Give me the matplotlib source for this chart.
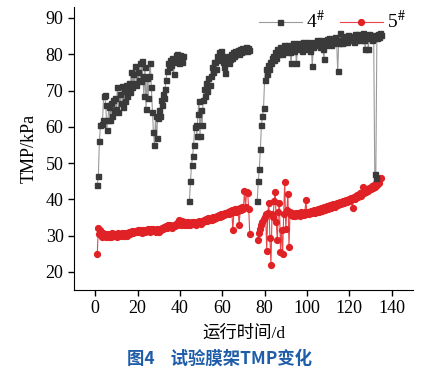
import numpy as np
import matplotlib
matplotlib.use("Agg")
import matplotlib.pyplot as plt

plt.rcParams["font.family"] = ["Liberation Serif", "Noto Sans CJK SC"]
plt.rcParams["mathtext.fontset"] = "stix"

nan = np.nan

# sampling days (every half day, day 1 to day 135)
days = np.arange(1.0, 135.01, 0.5)

# membrane rack 4#, TMP in kPa
tmp4 = [
    44.0, 46.4, 56.0, 60.5, 60.8, 62.0, 68.5, 68.8, 66.0, 59.2,
    62.0, 65.5, 61.8, 66.5, 63.0, 67.5, 64.5, 68.0, 65.0, 71.0,
    64.0, 69.0, 66.5, 71.2, 65.5, 70.0, 67.0, 71.5, 68.5, 70.5,
    72.0, 69.5, 75.0, 71.0, 74.5, 72.0, 76.8, 71.5, 75.0, 73.0,
    77.5, 72.5, 78.2, 74.0, 68.5, 76.5, 65.0, 73.5, 68.0, 74.0,
    77.5, 71.0, 64.0, 58.5, 55.0, 63.0, 56.8, 62.5, 64.5, 63.0,
    67.5, 66.0, 69.0, 68.0, 70.5, 73.0, 75.5, 77.5, 76.5, 78.5,
    77.0, 79.0, 74.5, 78.0, 79.8, 80.0, 79.0, 77.5, 79.8, 79.5,
    78.0, 79.5, nan, nan, nan, nan, nan, 39.4, 45.0, 49.5,
    52.0, 55.0, 59.8, 60.5, 57.5, 63.5, 67.0, 57.5, 64.5, 60.5,
    67.5, 70.5, 68.5, 72.0, 70.0, 73.5, 71.5, 74.0, 76.5, 75.0,
    77.8, 78.0, 76.0, 79.5, 78.5, 80.5, 79.0, 80.8, 79.5, 78.0,
    76.5, 74.8, 78.5, 79.5, 77.5, 78.8, 80.0, 79.0, 80.5, 79.5,
    81.0, 80.0, 80.8, 81.2, 80.0, 81.5, 80.5, 81.8, 80.8, 81.5,
    82.0, 81.0, 81.8, 81.2, nan, nan, nan, nan, nan, nan,
    nan, 39.4, 44.9, 48.3, 53.8, 60.5, 63.0, 65.3, 73.0, 75.8,
    74.5, 77.0, 76.0, 78.0, 77.5, 79.0, 79.5, 78.5, 80.5, 79.0,
    81.5, 80.0, 80.5, 82.0, 80.0, 81.5, 82.5, 80.5, 82.0, 81.0,
    82.5, 81.5, 80.5, 77.5, 82.0, 83.0, 81.0, 82.5, 77.5, 81.5,
    83.0, 81.8, 82.5, 81.0, 83.5, 82.0, 81.5, 83.0, 82.0, 83.5,
    82.5, 81.0, 82.8, 76.7, 82.0, 83.5, 82.5, 84.0, 82.8, 83.2,
    82.0, 84.0, 83.0, 81.5, 78.7, 83.5, 82.5, 84.2, 83.0, 84.5,
    83.5, 82.5, 84.0, 83.2, 84.8, 83.5, 84.0, 75.3, 83.0, 85.8,
    84.0, 83.0, 84.5, 83.5, 85.0, 84.0, 83.5, 85.2, 84.2, 83.8,
    85.0, 84.5, 83.5, 85.5, 84.0, 84.8, 85.5, 84.2, 83.8, 85.0,
    84.5, 85.8, 84.0, 81.5, 85.0, 84.5, 81.5, 85.5, 84.8, 83.8,
    85.2, 84.5, 47.0, 46.0, 84.5, 85.5, 84.8, 85.8, 85.3,
]

# membrane rack 5#, TMP in kPa
tmp5 = [
    25.0, 32.0, 30.5, 31.5, 29.5, 30.8, 29.8, 30.2, 29.5, 30.5,
    30.0, 29.7, 30.4, 29.6, 30.6, 30.0, 29.8, 30.5, 30.1, 29.7,
    30.6, 30.2, 30.0, 30.8, 30.3, 29.9, 30.7, 30.4, 30.0, 30.6,
    30.9, 30.4, 30.8, 31.2, 30.6, 31.0, 31.3, 30.9, 31.4, 31.0,
    31.5, 31.2, 30.8, 31.6, 31.3, 31.0, 31.6, 31.2, 31.8, 31.4,
    31.0, 31.7, 31.3, 31.9, 31.5, 31.1, 31.8, 31.4, 31.0, 31.9,
    31.6, 32.2, 31.8, 32.4, 32.0, 32.6, 32.2, 32.8, 32.4, 33.0,
    32.5, 32.2, 33.0, 32.6, 33.3, 32.8, 33.6, 34.4, 33.5, 33.0,
    34.0, 33.2, 32.8, 33.6, 33.2, 32.9, 33.7, 33.3, 32.9, 33.6,
    33.1, 33.8, 33.4, 33.0, 33.8, 33.5, 34.0, 33.6, 33.3, 34.1,
    33.8, 34.3, 33.9, 34.5, 34.1, 34.7, 34.3, 34.9, 34.4, 35.0,
    34.6, 35.2, 34.8, 35.5, 35.0, 35.7, 35.2, 35.9, 35.4, 36.0,
    35.6, 36.2, 35.8, 36.5, 36.0, 36.7, 36.2, 36.9, 31.4, 36.5,
    37.2, 36.6, 37.4, 36.8, 32.9, 37.5, 37.0, 37.8, 37.3, 42.4,
    38.0, 42.0, 41.6, 37.4, 30.3, nan, nan, nan, nan, nan,
    nan, nan, 28.8, 30.6, 31.8, 32.8, 33.6, 34.5, 35.2, 35.9,
    25.7, 36.2, 39.1, 29.2, 21.9, 36.0, 35.0, 39.4, 42.1, 33.7,
    28.7, 36.5, 39.1, 25.5, 31.5, 24.8, 36.0, 44.7, 31.9, 37.0,
    41.5, 26.9, 36.4, 35.6, 36.2, 35.4, 36.0, 35.5, 36.3, 35.7,
    36.1, 35.4, 36.4, 35.8, 36.2, 35.6, 36.5, 39.7, 36.0, 36.6,
    35.9, 36.4, 36.8, 36.1, 36.6, 37.0, 36.3, 36.9, 37.2, 36.5,
    37.1, 37.5, 36.8, 37.4, 37.8, 37.1, 37.7, 38.1, 37.4, 38.0,
    38.4, 37.7, 38.3, 38.7, 38.0, 38.6, 39.0, 38.3, 38.9, 39.3,
    38.6, 39.2, 39.6, 38.9, 39.5, 39.9, 39.2, 39.8, 40.2, 39.6,
    40.3, 37.5, 40.6, 40.0, 40.8, 41.2, 40.5, 41.3, 41.7, 41.0,
    41.8, 43.3, 41.6, 42.4, 42.0, 42.8, 42.3, 43.2, 42.8, 43.6,
    43.2, 44.0, 43.5, 44.5, 44.0, 45.0, 44.6, 45.8, 46.0,
]

fig = plt.figure(figsize=(4.43, 3.75), dpi=100)
ax = fig.add_axes([0.167, 0.227, 0.765, 0.754])

ax.plot(days, tmp4, color="#9a9a9a", lw=0.8, marker="s", ms=3.6,
        mfc="#3a3a3a", mec="#3a3a3a", label=r"4$^{\#}$", zorder=3)
ax.plot(days, tmp5, color="#e8454a", lw=0.8, marker="o", ms=4.2,
        mfc="#e02226", mec="#e02226", label=r"5$^{\#}$", zorder=2)

ax.set_xlim(-10, 150)
ax.set_ylim(15, 93)
ax.set_xticks([0, 20, 40, 60, 80, 100, 120, 140])
ax.set_yticks([20, 30, 40, 50, 60, 70, 80, 90])
ax.spines["top"].set_visible(False)
ax.spines["right"].set_visible(False)
ax.tick_params(labelsize=13, direction="out", length=4, width=1)
ax.set_ylabel("TMP/kPa", fontsize=13, labelpad=6)
ax.set_xlabel("运行时间/d", fontsize=12.5, labelpad=6)

ax.legend(loc="upper right", ncol=2, frameon=False, fontsize=14,
          handlelength=2.2, columnspacing=0.8, handletextpad=0.2,
          bbox_to_anchor=(1.03, 1.05))

fig.text(0.495, 0.03, "图4    试验膜架TMP变化", color="#1f5da8",
         fontsize=12.5, fontweight="bold", ha="center",
         family=["Noto Sans CJK SC", "DejaVu Sans"])

fig.savefig("out.png", dpi=100)
